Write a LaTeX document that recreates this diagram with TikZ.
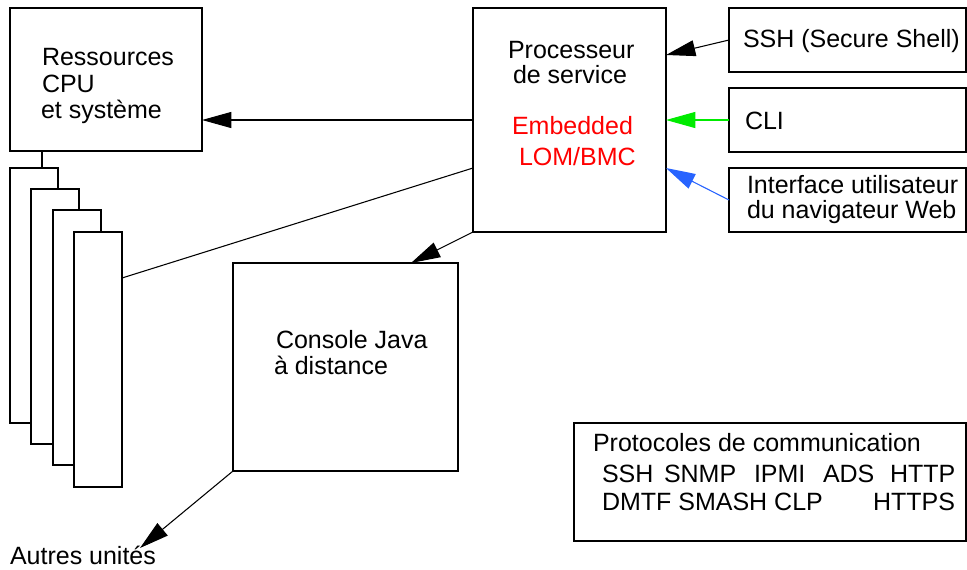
\documentclass[tikz,border=0pt]{standalone}
\usepackage{fontspec}
\setmainfont{Liberation Sans}
\usetikzlibrary{arrows.meta,fit,calc}
\definecolor{linkgreen}{RGB}{0,235,0}
\definecolor{linkblue}{RGB}{40,100,255}
\definecolor{lomred}{RGB}{255,0,0}
\begin{document}
\begin{tikzpicture}[x=0.75pt,y=-0.75pt,
  box/.style={draw=black, line width=1.6pt, fill=white, inner sep=0pt, outer sep=0pt},
  txt/.style={inner sep=0pt, outer sep=0pt, anchor=base west, font=\fontsize{18.75}{22}\selectfont},
  link/.style={line width=0.8pt},
  arr/.style={link, -{Triangle[length=22pt,width=12pt]}}]
\useasboundingbox (0,0) rectangle (967,569);

% main boxes
\node[box, fit={(10,8) (202,151)}] (res) {};
\node[box, fit={(473,8) (666,232)}] (proc) {};
\node[box, fit={(729,8) (966,72)}] (ssh) {};
\node[box, fit={(729,88) (966,152)}] (cli) {};
\node[box, fit={(729,168) (966,232)}] (iface) {};
\node[box, fit={(233,263) (458,471)}] (con) {};
\node[box, fit={(574,423) (966,541)}] (proto) {};

% stacked system units
\node[box, fit={(10,168) (58,423)}] (r1) {};
\node[box, fit={(31,189) (79,444)}] (r2) {};
\node[box, fit={(53,210) (101,465)}] (r3) {};
\node[box, fit={(74,232) (122,487)}] (r4) {};

% texts
\node[txt] (res1) at (42,65) {Ressources};
\node[txt] (res2) at (42,92) {CPU};
\node[txt] (res3) at (41,118) {et système};

\node[txt] (proc1) at (508,58) {Processeur};
\node[txt] (proc2) at (513,83) {de service};
\node[txt, text=lomred] (proc3) at (512,134) {Embedded};
\node[txt, text=lomred] (proc4) at (519,165) {LOM/BMC};

\node[txt] (sshT) at (743,47) {SSH (Secure Shell)};
\node[txt] (cliT) at (745,129) {CLI};
\node[txt] (if1) at (747,193) {Interface utilisateur};
\node[txt] (if2) at (747,218) {du navigateur Web};

\node[txt] (con1) at (276,348) {Console Java};
\node[txt] (con2) at (274,374) {à distance};

\node[txt] (autres) at (10,564) {Autres unités};

% protocol list
\node[txt] (pr0) at (593,451) {Protocoles de communication};
\node[txt] (prA) at (602,482) {SSH};
\node[txt] (prB) at (664,482) {SNMP};
\node[txt] (prC) at (754,482) {IPMI};
\node[txt] (prD) at (823,482) {ADS};
\node[txt] (prE) at (890,482) {HTTP};
\node[txt] (prF) at (602,510) {DMTF SMASH CLP};
\node[txt] (prI) at (873,510) {HTTPS};

% connectors
\draw[link] ($(res.south west)+(32,0)$) -- ($(r1.north west)+(32,0)$);
\draw[arr] (proc.west) -- (res.east |- proc.west);
\draw[link] ($(r4.north east)+(0,46)$) -- ($(proc.north west)+(0,160)$);
\draw[arr] (proc.south west) -- ($(con.north west)+(178,0)$);
\coordinate (autresTip) at (140,548);
\draw[arr] (con.south west) -- (autresTip);

\draw[arr] (ssh.west) -- ($(proc.north east)+(0,47)$);
\draw[arr, draw=linkgreen, fill=linkgreen] (cli.west) -- (proc.east);
\draw[arr, draw=linkblue, fill=linkblue] (iface.west) -- ($(proc.north east)+(0,160)$);
\end{tikzpicture}
\end{document}
